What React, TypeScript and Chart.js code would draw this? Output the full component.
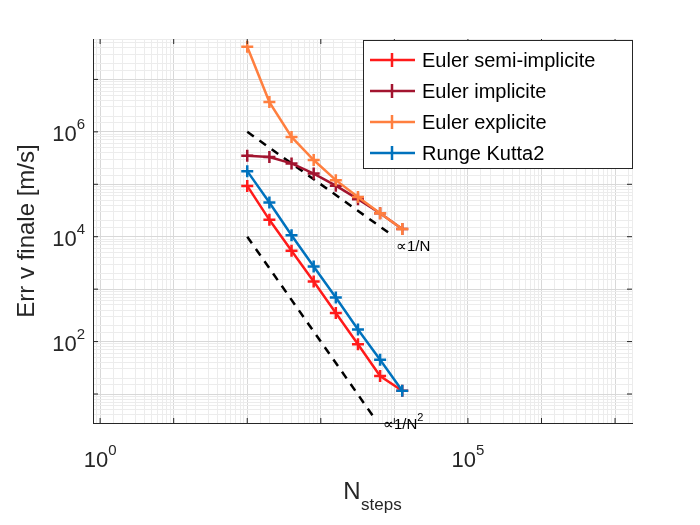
import { useEffect, useRef } from "react"
import { Chart, registerables } from "chart.js"

Chart.register(...registerables)

const nSteps = [100, 200, 400, 800, 1600, 3200, 6400, 12800]
const errSemi = [9.3e4, 2.1e4, 5.4e3, 1.4e3, 350, 89, 22, 11.5]
const errImplicit = [3.5e5, 3.3e5, 2.5e5, 1.6e5, 9.4e4, 5.2e4, 2.8e4, 1.4e4]
const errExplicit = [4.2e7, 3.7e6, 8.0e5, 2.9e5, 1.2e5, 5.7e4, 2.8e4, 1.4e4]
const errRK2 = [1.78e5, 4.5e4, 1.07e4, 2.7e3, 690, 170, 45, 11.5]
const ref1N = [{ x: 100, y: 1e6 }, { x: 8900, y: 1.12e4 }]
const ref1N2 = [{ x: 100, y: 1e4 }, { x: 5500, y: 3.3 }]
const seriesNames = ["Euler semi-implicite", "Euler implicite", "Euler explicite", "Runge Kutta2"]
const seriesColors = ["#ff1a1a", "#a2142f", "#ff7f3f", "#0072bd"]
const seriesOrder = [4, 3, 2, 1]
const xTickLabels = [0, 5]
const yTickLabels = [2, 4, 6]

const FONT = "Liberation Sans, Arial, sans-serif"

const isDecade = (v: number) => Math.abs(Math.log10(v) - Math.round(Math.log10(v))) < 1e-6

function drawPow(ctx: CanvasRenderingContext2D, x: number, y: number, exp: string, align: "center" | "right") {
  ctx.font = `22px ${FONT}`
  const w1 = ctx.measureText("10").width
  ctx.font = `15px ${FONT}`
  const w2 = ctx.measureText(exp).width
  const total = w1 + w2
  const left = align === "center" ? x - total / 2 : x - total
  ctx.textAlign = "left"
  ctx.textBaseline = "middle"
  ctx.font = `22px ${FONT}`
  ctx.fillText("10", left, y)
  ctx.font = `15px ${FONT}`
  ctx.fillText(exp, left + w1, y - 10)
}

const overlay = {
  id: "overlay",
  afterDraw(chart: Chart) {
    const ctx = chart.ctx
    const xs = chart.scales.x
    const ys = chart.scales.y
    const a = chart.chartArea
    ctx.save()
    ctx.fillStyle = "#262626"
    ctx.strokeStyle = "#262626"
    ctx.lineWidth = 1
    for (let e = 0; e <= 7; e++) {
      const px = xs.getPixelForValue(10 ** e)
      ctx.beginPath()
      ctx.moveTo(px, a.bottom); ctx.lineTo(px, a.bottom - 5)
      ctx.moveTo(px, a.top); ctx.lineTo(px, a.top + 5)
      ctx.stroke()
    }
    for (let e = 1; e <= 7; e++) {
      const py = ys.getPixelForValue(10 ** e)
      ctx.beginPath()
      ctx.moveTo(a.left, py); ctx.lineTo(a.left + 5, py)
      ctx.moveTo(a.right, py); ctx.lineTo(a.right - 5, py)
      ctx.stroke()
    }
    xTickLabels.forEach((e) => drawPow(ctx, xs.getPixelForValue(10 ** e), a.bottom + 38, String(e), "center"))
    yTickLabels.forEach((e) => drawPow(ctx, a.left - 8, ys.getPixelForValue(10 ** e) + 3, String(e), "right"))
    // axis titles
    ctx.textAlign = "center"
    ctx.textBaseline = "middle"
    ctx.font = `24px ${FONT}`
    ctx.fillText("N", 352, 492)
    ctx.font = `17px ${FONT}`
    ctx.textAlign = "left"
    ctx.fillText("steps", 361, 505)
    ctx.save()
    ctx.translate(27, 231)
    ctx.rotate(-Math.PI / 2)
    ctx.textAlign = "center"
    ctx.font = `24px ${FONT}`
    ctx.fillText("Err v finale [m/s]", 0, 0)
    ctx.restore()
    // reference labels
    ctx.fillStyle = "#000"
    ctx.textAlign = "left"
    ctx.font = `15px ${FONT}`
    ctx.fillText("\u221d1/N", xs.getPixelForValue(10500), ys.getPixelForValue(6.5e3))
    ctx.fillText("\u221d1/N", xs.getPixelForValue(7000), ys.getPixelForValue(2.6))
    const wN = ctx.measureText("\u221d1/N").width
    ctx.font = `11px ${FONT}`
    ctx.fillText("2", xs.getPixelForValue(7000) + wN, ys.getPixelForValue(2.6) - 7)
    // legend
    const lx = 363, ly = 40, lw = 269, lh = 128
    ctx.fillStyle = "#fff"
    ctx.fillRect(lx, ly, lw, lh)
    ctx.strokeStyle = "#262626"
    ctx.strokeRect(lx + 0.5, ly + 0.5, lw, lh)
    seriesNames.forEach((name, i) => {
      const cy = ly + 20 + i * 31
      ctx.strokeStyle = seriesColors[i]
      ctx.lineWidth = 2.5
      ctx.beginPath()
      ctx.moveTo(370, cy); ctx.lineTo(415, cy)
      ctx.moveTo(392, cy - 7); ctx.lineTo(392, cy + 7)
      ctx.stroke()
      ctx.fillStyle = "#000"
      ctx.font = `20px ${FONT}`
      ctx.textBaseline = "middle"
      ctx.fillText(name, 422, cy + 1)
    })
    ctx.restore()
  },
}

export default function App() {
  const canvasRef = useRef<HTMLCanvasElement>(null)

  useEffect(() => {
    if (!canvasRef.current) return
    const mk = (i: number, data: number[]) => ({
      label: seriesNames[i],
      data: nSteps.map((n, k) => ({ x: n, y: data[k] })),
      borderColor: seriesColors[i],
      backgroundColor: seriesColors[i],
      borderWidth: 2.5,
      pointStyle: "cross" as const,
      pointRadius: 6,
      pointBorderWidth: 2.5,
      order: seriesOrder[i],
    })
    const refDs = (data: { x: number; y: number }[]) => ({
      data,
      borderColor: "#000",
      borderWidth: 2.5,
      borderDash: [8, 7],
      pointRadius: 0,
      order: 5,
    })
    const grid = {
      drawTicks: false,
      color: (c: any) => (isDecade(c.tick.value) ? "#d8d8d8" : "#ececec"),
      lineWidth: 1,
    }
    const chart = new Chart(canvasRef.current, {
      type: "line",
      data: {
        datasets: [
          refDs(ref1N),
          refDs(ref1N2),
          mk(0, errSemi),
          mk(1, errImplicit),
          mk(2, errExplicit),
          mk(3, errRK2),
        ],
      },
      options: {
        animation: false,
        responsive: false,
        layout: { padding: { left: 93, right: 68, top: 39, bottom: 102 } },
        plugins: { legend: { display: false }, tooltip: { enabled: false } },
        scales: {
          x: {
            type: "logarithmic",
            min: 0.8,
            max: 1.7e7,
            ticks: { display: false },
            grid,
            border: { display: true, color: "#262626", width: 1 },
          },
          y: {
            type: "logarithmic",
            min: 2.8,
            max: 5.9e7,
            ticks: { display: false },
            grid,
            border: { display: true, color: "#262626", width: 1 },
          },
        },
      },
      plugins: [overlay],
    })
    return () => chart.destroy()
  }, [])

  return (
    <div style={{ position: "fixed", left: 0, top: 0, width: 700, height: 525, background: "#fff" }}>
      <canvas ref={canvasRef} width={700} height={525} />
    </div>
  )
}
